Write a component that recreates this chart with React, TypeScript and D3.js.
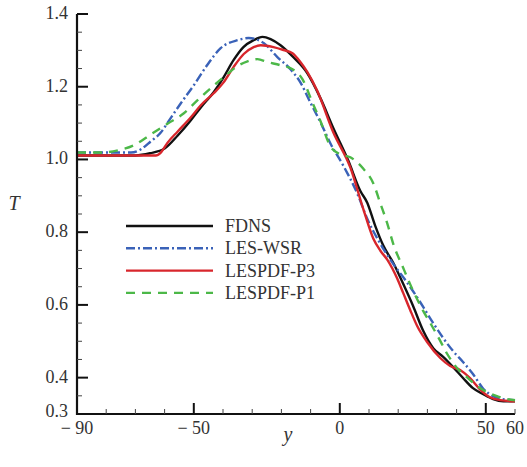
import React from 'react';
import * as d3 from 'd3';

// data: [y, T]
const fdns: [number, number][] = [
  [-90, 1.011], [-70, 1.011], [-65, 1.017], [-60, 1.03], [-55.5, 1.066], [-51, 1.108],
  [-47.6, 1.143], [-43.2, 1.185], [-39.8, 1.226], [-36.4, 1.273], [-33, 1.309], [-29.5, 1.328],
  [-26.5, 1.337], [-23.7, 1.331], [-20.3, 1.314], [-15.9, 1.281], [-11.1, 1.237], [-6.6, 1.168],
  [-2.2, 1.086], [2.9, 0.997], [7, 0.914], [9.4, 0.881], [12.1, 0.818], [14.9, 0.763],
  [18.3, 0.716], [21.7, 0.658], [25.1, 0.597], [28.6, 0.528], [32, 0.481], [35.4, 0.457],
  [38.8, 0.429], [42.2, 0.399], [45.6, 0.371], [49, 0.355], [52.5, 0.341], [56, 0.335], [60, 0.335],
];

const lesWsr: [number, number][] = [
  [-90, 1.019], [-71.5, 1.019], [-68.1, 1.028], [-64.7, 1.05], [-61.3, 1.074], [-58.9, 1.102],
  [-54.5, 1.154], [-50, 1.204], [-45.2, 1.262], [-40.8, 1.306], [-35, 1.328], [-31.2, 1.334],
  [-28.8, 1.331], [-26.1, 1.32], [-21.3, 1.281], [-16.9, 1.248], [-13.5, 1.212], [-10.1, 1.157],
  [-6.6, 1.102], [-3.2, 1.044], [1.2, 0.983], [6, 0.906], [9.4, 0.837], [13.9, 0.768],
  [18.3, 0.713], [23.1, 0.661], [27.5, 0.608], [32, 0.55], [35.4, 0.509], [38.8, 0.473],
  [42.2, 0.443], [45.6, 0.41], [49, 0.371], [52.5, 0.349], [55.9, 0.341], [60, 0.338],
];

const lespdfP3: [number, number][] = [
  [-90, 1.011], [-63, 1.011], [-61.3, 1.019], [-58.9, 1.047], [-55.5, 1.077], [-51, 1.116],
  [-47.6, 1.149], [-43.2, 1.182], [-39.8, 1.212], [-36.4, 1.254], [-32.9, 1.29], [-29.5, 1.309],
  [-27.1, 1.314], [-22.7, 1.309], [-19.3, 1.301], [-16.2, 1.292], [-13.5, 1.268], [-11.1, 1.24],
  [-7.7, 1.188], [-2.2, 1.074], [3.6, 0.978], [8, 0.865], [11.5, 0.782], [13.9, 0.749],
  [16.3, 0.724], [19.7, 0.672], [21.7, 0.633], [24.1, 0.586], [26.5, 0.542], [29.9, 0.498],
  [34.4, 0.454], [37.8, 0.432], [41.2, 0.421], [44.6, 0.399], [48, 0.368], [51.4, 0.346],
  [54.9, 0.338], [60, 0.335],
];

const lespdfP1: [number, number][] = [
  [-90, 1.019], [-81.8, 1.019], [-76, 1.025], [-70.5, 1.039], [-64.7, 1.069], [-58.9, 1.099],
  [-53.4, 1.127], [-48.7, 1.163], [-44.2, 1.196], [-39.8, 1.226], [-35, 1.257], [-31.6, 1.27],
  [-28.2, 1.276], [-24.8, 1.268], [-20.3, 1.259], [-16.2, 1.248], [-12.8, 1.221], [-9.4, 1.157],
  [-6.6, 1.105], [-3.2, 1.036], [0.2, 1.014], [3.6, 1.006], [8, 0.975], [11.5, 0.934],
  [13.9, 0.879], [16.3, 0.823], [18.3, 0.768], [21.7, 0.702], [25.1, 0.639], [28.6, 0.583],
  [31, 0.55], [34.4, 0.501], [36.8, 0.465], [40.2, 0.426], [43.6, 0.401], [47, 0.377],
  [50.4, 0.36], [53.8, 0.349], [57.3, 0.341], [60, 0.338],
];

const seriesNames = ['FDNS', 'LES-WSR', 'LESPDF-P3', 'LESPDF-P1'];
const seriesData = [fdns, lesWsr, lespdfP3, lespdfP1];
const seriesColors = ['#111111', '#3a62b8', '#d8262c', '#4cb848'];
const seriesDash = ['none', '9,3,2,3', 'none', '9,7'];

const xMajor = [-90, -50, 0, 50, 60];
const xMajorTicks = [-50, 0, 50];
const xMinor = [-80, -70, -60, -40, -30, -20, -10, 10, 20, 30, 40, 60];
const yLabels = [0.3, 0.4, 0.6, 0.8, 1.0, 1.2, 1.4];
const yMajorTicks = [0.4, 0.6, 0.8, 1.0, 1.2, 1.4];
const yMinor = [0.35, 0.45, 0.5, 0.55, 0.65, 0.7, 0.75, 0.85, 0.9, 0.95, 1.05, 1.1, 1.15, 1.25, 1.3, 1.35];

const W = 527;
const H = 467;
const serif = 'Liberation Serif, DejaVu Serif, serif';

export default function App() {
  const x = d3.scaleLinear().domain([-90, 60]).range([77, 515]);
  const y = d3.scaleLinear().domain([0.3, 1.4]).range([414, 14]);
  const line = d3.line<[number, number]>()
    .x(d => x(d[0]))
    .y(d => y(d[1]))
    .curve(d3.curveMonotoneX);

  const fmtX = (v: number) => (v < 0 ? '\u2212 ' + Math.abs(v) : String(v));
  const txt = { fontFamily: serif };

  return (
    <svg width={W} height={H} style={{ position: 'absolute', left: 0, top: 0, background: '#fff' }}>
      {/* curves */}
      {seriesData.map((d, i) => (
        <path key={seriesNames[i]} d={line(d) || ''} fill="none" stroke={seriesColors[i]}
          strokeWidth={2.4} strokeDasharray={seriesDash[i]} strokeLinejoin="round" />
      ))}

      {/* axes */}
      <line x1={x(-90)} x2={x(-90)} y1={y(1.4)} y2={y(0.3) + 1} stroke="#111" strokeWidth={2.2} />
      <line x1={x(-90) - 1} x2={x(60)} y1={y(0.3)} y2={y(0.3)} stroke="#111" strokeWidth={2.2} />

      {yMajorTicks.map(v => (
        <line key={'ym' + v} x1={x(-90)} x2={x(-90) + 11} y1={y(v)} y2={y(v)} stroke="#111" strokeWidth={2} />
      ))}
      {yMinor.map(v => (
        <line key={'yn' + v} x1={x(-90)} x2={x(-90) + 5} y1={y(v)} y2={y(v)} stroke="#444" strokeWidth={1} />
      ))}
      {xMajorTicks.map(v => (
        <line key={'xm' + v} x1={x(v)} x2={x(v)} y1={y(0.3)} y2={y(0.3) - 11} stroke="#111" strokeWidth={2} />
      ))}
      {xMinor.map(v => (
        <line key={'xn' + v} x1={x(v)} x2={x(v)} y1={y(0.3)} y2={y(0.3) - 5} stroke="#444" strokeWidth={1} />
      ))}

      {yLabels.map(v => (
        <text key={'yl' + v} x={x(-90) - 9} y={y(v) + (v === 0.3 ? 3 : 5)} textAnchor="end" fontSize={18}
          fill="#333" style={txt}>
          {v.toFixed(1)}
        </text>
      ))}
      {xMajor.map(v => (
        <text key={'xl' + v} x={x(v)} y={y(0.3) + 20} textAnchor="middle" fontSize={18} fill="#333" style={txt}>
          {fmtX(v)}
        </text>
      ))}

      <text x={14} y={210} textAnchor="middle" fontSize={20} fontStyle="italic" fill="#333" style={txt}>T</text>
      <text x={288} y={441} textAnchor="middle" fontSize={20} fontStyle="italic" fill="#333" style={txt}>y</text>

      {/* legend */}
      {seriesNames.map((n, i) => (
        <g key={'lg' + n} transform={`translate(126,${226 + i * 22.3})`}>
          <line x1={0} x2={87} y1={0} y2={0} stroke={seriesColors[i]} strokeWidth={2.4}
            strokeDasharray={seriesDash[i]} />
          <text x={99} y={6} fontSize={18} fill="#333" style={txt}>{n}</text>
        </g>
      ))}
    </svg>
  );
}
